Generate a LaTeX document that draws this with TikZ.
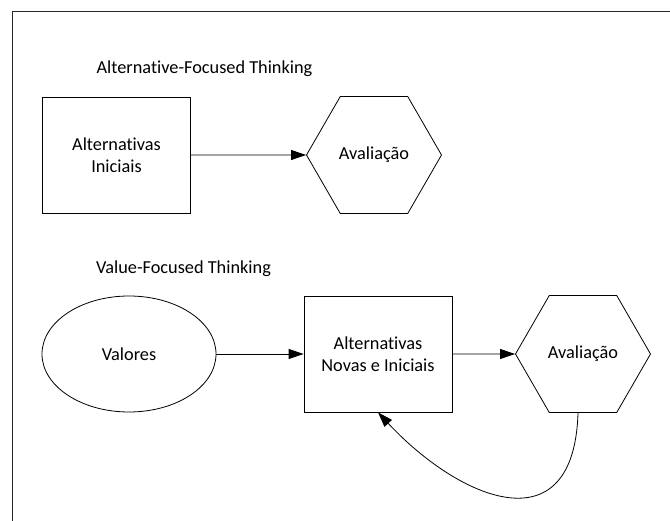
\documentclass[tikz,border=0pt]{standalone}
\usepackage{fontspec}
\setmainfont{Carlito}[Ligatures=NoCommon]
\usetikzlibrary{shapes.geometric,arrows.meta}

\begin{document}
\begin{tikzpicture}[x=1pt,y=-1pt,
    every node/.style={font=\fontsize{18.3}{22}\selectfont, text=black},
    stepbox/.style={draw, line width=0.8pt, rectangle, inner sep=0pt,
                    minimum width=148pt, minimum height=116pt, align=center},
    evalhex/.style={draw, line width=0.8pt, regular polygon, regular polygon sides=6,
                    inner sep=0pt, minimum size=135pt},
    valnode/.style={draw, line width=0.8pt, ellipse, inner sep=0pt,
                    minimum width=174pt, minimum height=116pt},
    title/.style={anchor=base},
    flow/.style={line width=0.8pt, -{Triangle[length=15pt,width=10pt]}}
  ]
  \useasboundingbox (0,0) rectangle (670,521);

  % outer frame (top and left edges)
  \draw[line width=1.4pt, black!85] (12.5,521) -- (12.5,11.5) -- (671,11.5);

  % Alternative-focused thinking
  \node[title] (t1) at (204.5,74) {Alternative-Focused Thinking};
  \node[stepbox] (alt1) at (116.5,155) {Alternativas\\Iniciais};
  \node[evalhex] (ev1) at (374,155) {Avaliação};
  \draw[flow] (alt1.east) -- (ev1.west);

  % Value-focused thinking
  \node[title] (t2) at (183.5,274) {Value-Focused Thinking};
  \node[valnode] (val) at (129,354) {Valores};
  \node[stepbox] (alt2) at (378,354) {Alternativas\\Novas e Iniciais};
  \node[evalhex] (ev2) at (583,354) {Avaliação};
  \draw[flow] (val.east) -- (alt2.west);
  \draw[flow] (alt2.east) -- (ev2.west);

  % feedback from evaluation back to the alternatives
  \draw[flow] ([xshift=-5pt]ev2.south) .. controls +(-4,135) and +(82,88) .. (alt2.south);
\end{tikzpicture}
\end{document}
